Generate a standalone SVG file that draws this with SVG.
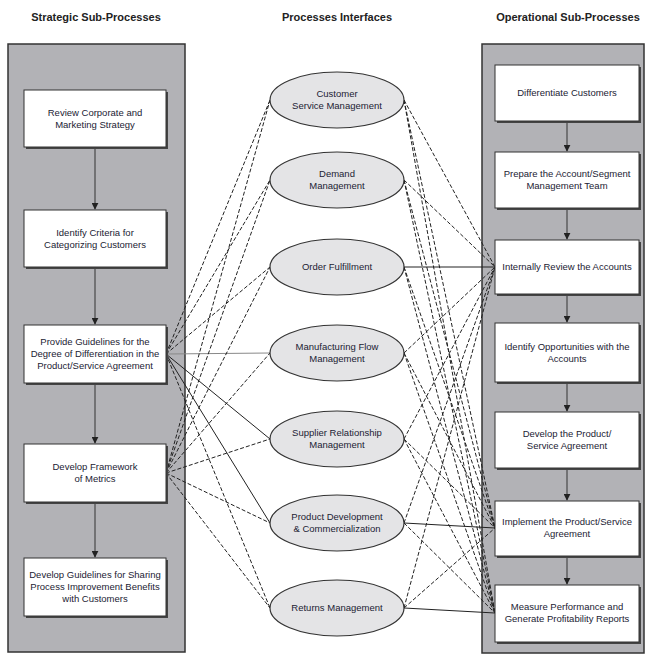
<svg xmlns="http://www.w3.org/2000/svg" width="647" height="656" viewBox="0 0 647 656">
<defs>
<style>
.hdr{font-family:"Liberation Sans Narrow","Liberation Sans",Arial,sans-serif;font-size:11px;font-weight:bold;fill:#222;text-anchor:middle}
.t{font-family:"Liberation Sans Narrow","Liberation Sans",Arial,sans-serif;font-size:9.5px;fill:#223;text-anchor:middle}
.panel{fill:#b2b2b6;stroke:#333;stroke-width:1.5}
.box{fill:#fff;stroke:#333;stroke-width:1}
.shd{fill:#444}
.ell{fill:#e4e4e6;stroke:#333;stroke-width:1.2}
.flow{stroke:#333;stroke-width:1;fill:none;marker-end:url(#ah)}
.d{stroke:#222;stroke-width:1;stroke-dasharray:4,2;fill:none}
.s{stroke:#222;stroke-width:1;fill:none}
.g{stroke:#888;stroke-width:1;fill:none}
</style>
<marker id="ah" viewBox="0 0 10 10" refX="9" refY="5" markerWidth="7" markerHeight="7" orient="auto" markerUnits="userSpaceOnUse">
<path d="M0,0 L10,5 L0,10 z" fill="#222"/>
</marker>
</defs>
<rect width="647" height="656" fill="#fff"/>

<text class="hdr" x="96" y="21">Strategic Sub-Processes</text>
<text class="hdr" x="337" y="21">Processes Interfaces</text>
<text class="hdr" x="568" y="21">Operational Sub-Processes</text>

<rect class="panel" x="8" y="44" width="177" height="608"/>
<rect class="panel" x="482" y="44" width="162" height="609"/>

<g id="connectors">
<!-- strategic flow -->
<line class="flow" x1="95" y1="149" x2="95" y2="209"/>
<line class="flow" x1="95" y1="269" x2="95" y2="324"/>
<line class="flow" x1="95" y1="385" x2="95" y2="443"/>
<line class="flow" x1="95" y1="504" x2="95" y2="557"/>
<!-- operational flow -->
<line class="flow" x1="567" y1="123" x2="567" y2="151"/>
<line class="flow" x1="567" y1="210" x2="567" y2="239"/>
<line class="flow" x1="567" y1="296" x2="567" y2="322"/>
<line class="flow" x1="567" y1="384" x2="567" y2="411"/>
<line class="flow" x1="567" y1="470" x2="567" y2="500"/>
<line class="flow" x1="567" y1="558" x2="567" y2="584"/>
<!-- strategic box 3 to interfaces -->
<line class="d" x1="166" y1="354" x2="270" y2="100"/>
<line class="d" x1="166" y1="354" x2="270" y2="180"/>
<line class="d" x1="166" y1="354" x2="270" y2="267"/>
<line class="g" x1="166" y1="354" x2="270" y2="353"/>
<line class="s" x1="166" y1="354" x2="270" y2="439"/>
<line class="s" x1="166" y1="354" x2="270" y2="523"/>
<line class="d" x1="166" y1="354" x2="270" y2="608"/>
<!-- strategic box 4 to interfaces -->
<line class="d" x1="166" y1="473" x2="270" y2="100"/>
<line class="d" x1="166" y1="473" x2="270" y2="180"/>
<line class="d" x1="166" y1="473" x2="270" y2="267"/>
<line class="d" x1="166" y1="473" x2="270" y2="353"/>
<line class="d" x1="166" y1="473" x2="270" y2="439"/>
<line class="d" x1="166" y1="473" x2="270" y2="523"/>
<line class="d" x1="166" y1="473" x2="270" y2="608"/>
<!-- interfaces to Internally Review -->
<line class="d" x1="404" y1="100" x2="495" y2="267"/>
<line class="d" x1="404" y1="180" x2="495" y2="267"/>
<line class="s" x1="404" y1="267" x2="495" y2="267"/>
<line class="d" x1="404" y1="353" x2="495" y2="267"/>
<line class="d" x1="404" y1="439" x2="495" y2="267"/>
<line class="d" x1="404" y1="523" x2="495" y2="267"/>
<line class="d" x1="404" y1="608" x2="495" y2="267"/>
<!-- interfaces to Implement -->
<line class="d" x1="404" y1="100" x2="495" y2="528"/>
<line class="d" x1="404" y1="180" x2="495" y2="528"/>
<line class="d" x1="404" y1="267" x2="495" y2="528"/>
<line class="d" x1="404" y1="353" x2="495" y2="528"/>
<line class="d" x1="404" y1="439" x2="495" y2="528"/>
<line class="s" x1="404" y1="523" x2="495" y2="528"/>
<line class="d" x1="404" y1="608" x2="495" y2="528"/>
<!-- interfaces to Measure -->
<line class="d" x1="404" y1="100" x2="495" y2="613"/>
<line class="d" x1="404" y1="180" x2="495" y2="613"/>
<line class="d" x1="404" y1="267" x2="495" y2="613"/>
<line class="d" x1="404" y1="353" x2="495" y2="613"/>
<line class="d" x1="404" y1="439" x2="495" y2="613"/>
<line class="d" x1="404" y1="523" x2="495" y2="613"/>
<line class="s" x1="404" y1="608" x2="495" y2="613"/>
</g>

<!-- strategic boxes -->
<g id="s1"><rect class="shd" x="26" y="92" width="142" height="57"/><rect class="box" x="24" y="90" width="142" height="57"/>
<text class="t" x="95" y="116">Review Corporate and</text><text class="t" x="95" y="128">Marketing Strategy</text></g>
<g id="s2"><rect class="shd" x="26" y="212" width="142" height="57"/><rect class="box" x="24" y="210" width="142" height="57"/>
<text class="t" x="95" y="236">Identify Criteria for</text><text class="t" x="95" y="248">Categorizing Customers</text></g>
<g id="s3"><rect class="shd" x="26" y="327" width="142" height="58"/><rect class="box" x="24" y="325" width="142" height="58"/>
<text class="t" x="95" y="345">Provide Guidelines for the</text><text class="t" x="95" y="357">Degree of Differentiation in the</text><text class="t" x="95" y="369">Product/Service Agreement</text></g>
<g id="s4"><rect class="shd" x="26" y="446" width="142" height="58"/><rect class="box" x="24" y="444" width="142" height="58"/>
<text class="t" x="95" y="470">Develop Framework</text><text class="t" x="95" y="482">of Metrics</text></g>
<g id="s5"><rect class="shd" x="26" y="560" width="142" height="58"/><rect class="box" x="24" y="558" width="142" height="58"/>
<text class="t" x="95" y="578">Develop Guidelines for Sharing</text><text class="t" x="95" y="590">Process Improvement Benefits</text><text class="t" x="95" y="602">with Customers</text></g>

<!-- interfaces -->
<g id="i1"><ellipse class="ell" cx="337" cy="100" rx="67" ry="28"/><text class="t" x="337" y="97">Customer</text><text class="t" x="337" y="109">Service Management</text></g>
<g id="i2"><ellipse class="ell" cx="337" cy="180" rx="67" ry="28"/><text class="t" x="337" y="177">Demand</text><text class="t" x="337" y="189">Management</text></g>
<g id="i3"><ellipse class="ell" cx="337" cy="267" rx="67" ry="28"/><text class="t" x="337" y="270">Order Fulfillment</text></g>
<g id="i4"><ellipse class="ell" cx="337" cy="353" rx="67" ry="28"/><text class="t" x="337" y="350">Manufacturing Flow</text><text class="t" x="337" y="362">Management</text></g>
<g id="i5"><ellipse class="ell" cx="337" cy="439" rx="67" ry="28"/><text class="t" x="337" y="436">Supplier Relationship</text><text class="t" x="337" y="448">Management</text></g>
<g id="i6"><ellipse class="ell" cx="337" cy="523" rx="67" ry="28"/><text class="t" x="337" y="520">Product Development</text><text class="t" x="337" y="532">&amp; Commercialization</text></g>
<g id="i7"><ellipse class="ell" cx="337" cy="608" rx="67" ry="28"/><text class="t" x="337" y="611">Returns Management</text></g>

<!-- operational boxes -->
<g id="o1"><rect class="shd" x="497" y="67" width="144" height="56"/><rect class="box" x="495" y="65" width="144" height="56"/>
<text class="t" x="567" y="96">Differentiate Customers</text></g>
<g id="o2"><rect class="shd" x="497" y="154" width="144" height="56"/><rect class="box" x="495" y="152" width="144" height="56"/>
<text class="t" x="567" y="177">Prepare the Account/Segment</text><text class="t" x="567" y="189">Management Team</text></g>
<g id="o3"><rect class="shd" x="497" y="242" width="144" height="54"/><rect class="box" x="495" y="240" width="144" height="54"/>
<text class="t" x="567" y="270">Internally Review the Accounts</text></g>
<g id="o4"><rect class="shd" x="497" y="325" width="144" height="59"/><rect class="box" x="495" y="323" width="144" height="59"/>
<text class="t" x="567" y="350">Identify Opportunities with the</text><text class="t" x="567" y="362">Accounts</text></g>
<g id="o5"><rect class="shd" x="497" y="414" width="144" height="56"/><rect class="box" x="495" y="412" width="144" height="56"/>
<text class="t" x="567" y="437">Develop the Product/</text><text class="t" x="567" y="449">Service Agreement</text></g>
<g id="o6"><rect class="shd" x="497" y="503" width="144" height="55"/><rect class="box" x="495" y="501" width="144" height="55"/>
<text class="t" x="567" y="525">Implement the Product/Service</text><text class="t" x="567" y="537">Agreement</text></g>
<g id="o7"><rect class="shd" x="497" y="587" width="144" height="57"/><rect class="box" x="495" y="585" width="144" height="57"/>
<text class="t" x="567" y="610">Measure Performance and</text><text class="t" x="567" y="622">Generate Profitability Reports</text></g>
</svg>
